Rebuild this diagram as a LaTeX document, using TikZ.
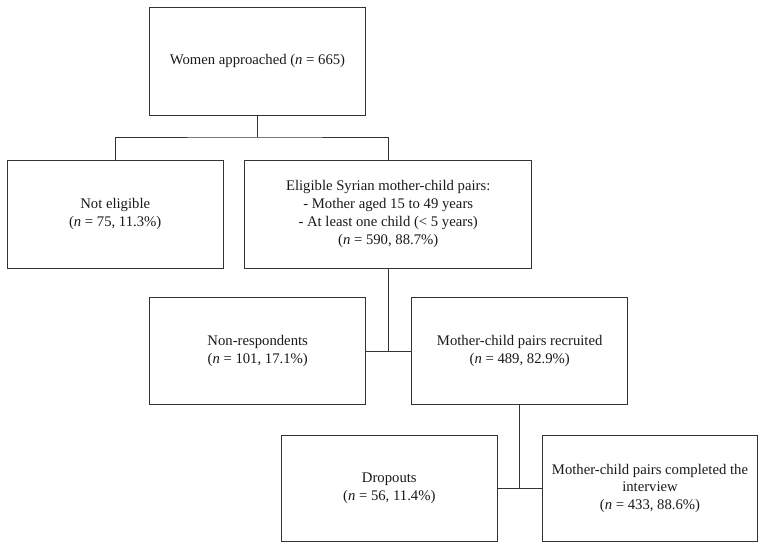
\documentclass[tikz,border=0pt]{standalone}
\usepackage{fontspec}
\setmainfont{Liberation Serif}
\begin{document}
\begin{tikzpicture}[x=1pt,y=-1pt,
  box/.style={draw=black!80, line width=0.9pt, align=center, inner sep=2pt,
    font=\fontsize{14.7}{17.8}\selectfont, text=black!90},
  link/.style={draw=black!80, line width=0.9pt}]
\useasboundingbox (0,0) rectangle (765,549);
\node[box, minimum width=215.6pt, minimum height=107.7pt] (top) at (257.5,61.2) {Women approached (\textit{n} = 665)};
\node[box, minimum width=215.7pt, minimum height=108pt] (ne) at (115.2,214) {Not eligible\\(\textit{n} = 75, 11.3\%)};
\node[box, minimum width=287pt, minimum height=108pt] (el) at (388.2,214) {Eligible Syrian mother-child pairs:\\- Mother aged 15 to 49 years\\- At least one child (< 5 years)\\(\textit{n} = 590, 88.7\%)};
\node[box, minimum width=216pt, minimum height=107.4pt] (nr) at (257.7,351) {Non-respondents\\(\textit{n} = 101, 17.1\%)};
\node[box, minimum width=216pt, minimum height=107.4pt] (rc) at (519.7,351) {Mother-child pairs recruited\\(\textit{n} = 489, 82.9\%)};
\node[box, minimum width=215.3pt, minimum height=106.7pt] (dr) at (389.3,488.3) {Dropouts\\(\textit{n} = 56, 11.4\%)};
\node[box, minimum width=214.6pt, minimum height=106.7pt] (cp) at (650,488.3) {Mother-child pairs completed the\\interview\\(\textit{n} = 433, 88.6\%)};
\coordinate (j1) at (257.5,137);
\draw[link] (top.south) -- (j1);
\draw[link] (ne.north) |- (j1) -| (el.north);
\draw[link] (el.south) -- (el.south |- nr.east);
\draw[link] (nr.east) -- (rc.west);
\draw[link] (rc.south) -- (rc.south |- dr.east);
\draw[link] (dr.east) -- (cp.west);
\end{tikzpicture}
\end{document}
